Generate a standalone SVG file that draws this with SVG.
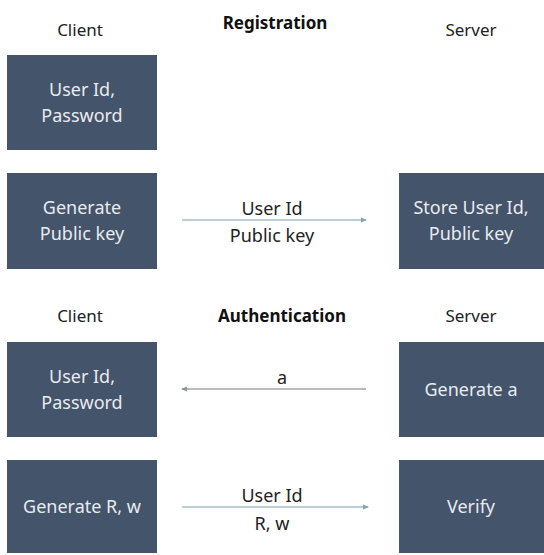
<svg xmlns="http://www.w3.org/2000/svg" width="544" height="555" viewBox="0 0 544 555">
<style>
.box{fill:#44546a}
.bt{font-family:"Noto Sans","Liberation Sans",sans-serif;font-size:18px;fill:#e8ebf0;text-anchor:middle}
.h{font-family:"Noto Sans","Liberation Sans",sans-serif;font-size:17px;fill:#222;text-anchor:middle}
.hb{font-family:"Noto Sans","Liberation Sans",sans-serif;font-size:17px;font-weight:bold;fill:#111;text-anchor:middle}
.lbl{font-family:"Noto Sans","Liberation Sans",sans-serif;font-size:18px;fill:#222;text-anchor:middle}
.ln{stroke:#a9bdd0;stroke-width:1.5;fill:none}
.lg{stroke:#a0a4a8;stroke-width:1.5;fill:none}
</style>
<defs>
<marker id="ab" markerWidth="6" markerHeight="6" refX="5" refY="3" orient="auto" markerUnits="userSpaceOnUse"><path d="M0,0.5 L6,3 L0,5.5 Z" fill="#8aa0b8"/></marker>
<marker id="ag" markerWidth="6" markerHeight="6" refX="5" refY="3" orient="auto" markerUnits="userSpaceOnUse"><path d="M0,0.5 L6,3 L0,5.5 Z" fill="#909498"/></marker>
</defs>
<rect width="544" height="555" fill="#ffffff"/>
<text class="h" x="80" y="36">Client</text>
<text class="hb" x="275" y="29">Registration</text>
<text class="h" x="471" y="36">Server</text>
<text class="h" x="80" y="322">Client</text>
<text class="hb" x="282" y="322">Authentication</text>
<text class="h" x="471" y="322">Server</text>
<g id="reg-client-1"><rect class="box" x="7" y="55" width="150" height="95"/><text class="bt" x="82" y="96">User Id,</text><text class="bt" x="82" y="122">Password</text></g>
<g id="reg-client-2"><rect class="box" x="7" y="173" width="150" height="96"/><text class="bt" x="82" y="214">Generate</text><text class="bt" x="82" y="240">Public key</text></g>
<g id="reg-server"><rect class="box" x="399" y="173" width="150" height="96"/><text class="bt" x="471" y="214">Store User Id,</text><text class="bt" x="471" y="240">Public key</text></g>
<g id="auth-client-1"><rect class="box" x="7" y="342" width="150" height="95"/><text class="bt" x="82" y="383">User Id,</text><text class="bt" x="82" y="409">Password</text></g>
<g id="auth-server-1"><rect class="box" x="399" y="342" width="150" height="95"/><text class="bt" x="471" y="396">Generate a</text></g>
<g id="auth-client-2"><rect class="box" x="7" y="460" width="150" height="93"/><text class="bt" x="82" y="513">Generate R, w</text></g>
<g id="auth-server-2"><rect class="box" x="399" y="460" width="150" height="93"/><text class="bt" x="471" y="513">Verify</text></g>
<g id="connectors">
<line class="ln" x1="182" y1="220" x2="366" y2="220" marker-end="url(#ab)"/>
<text class="lbl" x="272" y="215">User Id</text>
<text class="lbl" x="272" y="242">Public key</text>
<line class="lg" x1="366" y1="389" x2="182" y2="389" marker-end="url(#ag)"/>
<text class="lbl" x="282" y="384">a</text>
<line class="ln" x1="182" y1="507" x2="368" y2="507" marker-end="url(#ab)"/>
<text class="lbl" x="272" y="502">User Id</text>
<text class="lbl" x="272" y="530">R, w</text>
</g>
</svg>
